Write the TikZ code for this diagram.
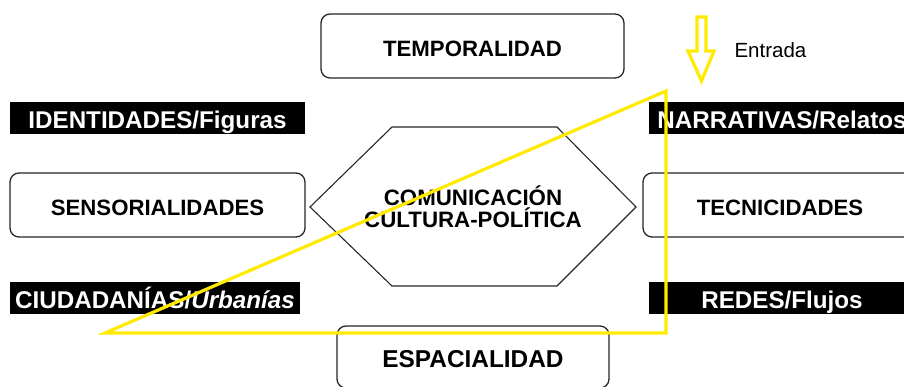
\documentclass[tikz,border=0pt]{standalone}
\usepackage{fontspec}
\setmainfont{Liberation Sans}
\usetikzlibrary{calc}
\definecolor{entrada}{RGB}{255,234,0}
\tikzset{
    field/.style={draw=black!85,line width=1.3pt,rounded corners=9pt,fill=white,
        font=\fontsize{22.2}{23}\selectfont\bfseries,inner sep=0pt,
        text height=21.5pt,text depth=0pt},
    bar/.style={fill=black,text=white,inner sep=0pt,minimum height=32pt,
        font=\fontsize{24.2}{25}\selectfont\bfseries,
        text height=21pt,text depth=0pt},
    core/.style={draw=black!85,line width=1.1pt},
    corelabel/.style={align=center,font=\fontsize{22.3}{22}\selectfont\bfseries},
    entry/.style={draw=entrada,line width=3.2pt,line join=miter},
    entrylabel/.style={font=\fontsize{20.5}{20}\selectfont}
}
\begin{document}
\begin{tikzpicture}[x=1pt,y=-1pt]
\useasboundingbox (0,0) rectangle (904,387);
% ejes
\node[field,minimum width=303pt,minimum height=64pt] (temporalidad) at (472.5,46) {TEMPORALIDAD};
\node[field,minimum width=295pt,minimum height=64pt] (sensorialidades) at (157.5,205) {SENSORIALIDADES};
\node[field,minimum width=274pt,minimum height=64pt] (tecnicidades) at (780,205) {TECNICIDADES};
\node[field,minimum width=272pt,minimum height=62pt,font=\fontsize{24.4}{25}\selectfont\bfseries] (espacialidad) at (473,357) {ESPACIALIDAD};
% mediaciones
\node[bar,minimum width=295pt] (identidades) at (157.5,118) {IDENTIDADES/Figuras};
\node[bar,minimum width=266pt] (narrativas) at (782,118) {NARRATIVAS/Relatos};
\node[bar,minimum width=290pt] (ciudadanias) at (155,298) {CIUDADANÍAS/\textit{Urbanías}};
\node[bar,minimum width=266pt] (redes) at (782,298) {REDES/Flujos};
% centro
\draw[core] (392,127) -- (557,127) -- (636,207) -- (557,286) -- (392,286) -- (310,207) -- cycle;
\node[corelabel] (comunicacion) at (473,207) {COMUNICACIÓN\\CULTURA-POLÍTICA};
% entrada
\draw[entry] (105,333) -- (666,91) -- (666,333) -- cycle;
\draw[entry] (697,17) -- (706,17) -- (706,51) -- (714,51) -- (701.5,81) -- (688,51) -- (697,51) -- cycle;
\node[entrylabel,anchor=west] (entrada) at (731,50) {Entrada};
\end{tikzpicture}
\end{document}
